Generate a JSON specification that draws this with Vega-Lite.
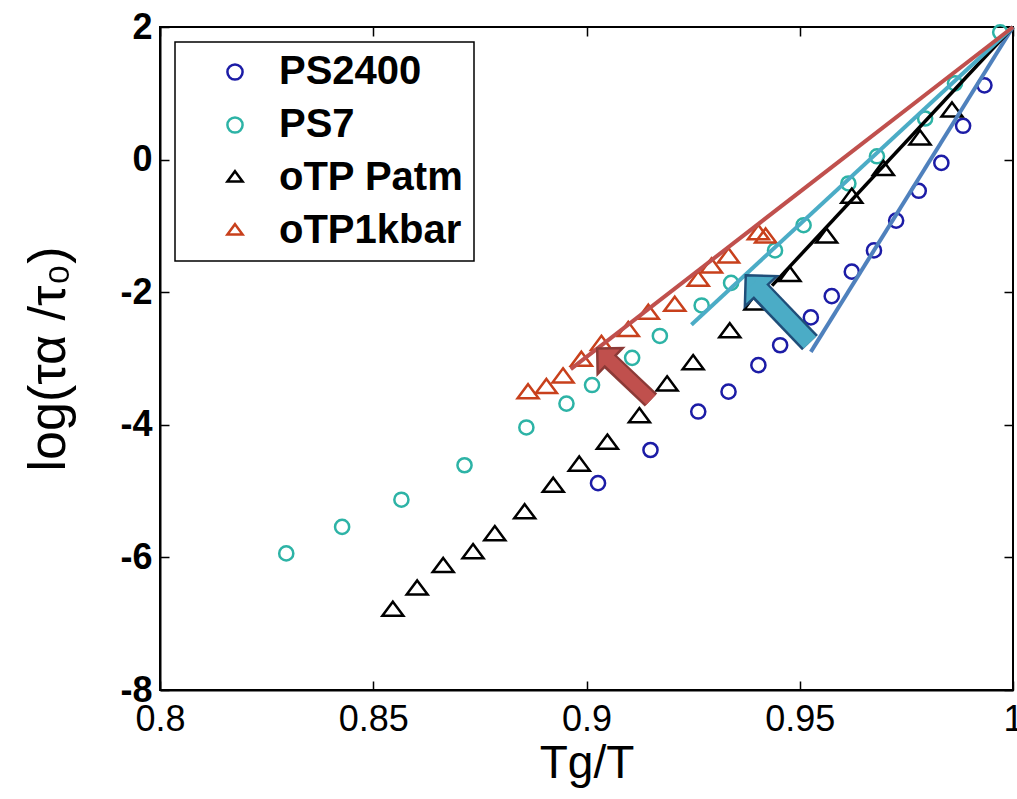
{
  "$schema": "https://vega.github.io/schema/vega-lite/v6.json",
  "width": 853,
  "height": 663,
  "autosize": "none",
  "padding": {"left": 160, "top": 27, "right": 4, "bottom": 109},
  "background": "white",
  "config": {
    "view": {"stroke": "black", "strokeWidth": 2},
    "font": "Liberation Sans",
    "axis": {
      "domainColor": "black",
      "domainWidth": 2,
      "ticks": false,
      "labelColor": "black",
      "titleColor": "black",
      "labelFont": "Liberation Sans",
      "titleFont": "Liberation Sans",
      "labelFlush": false,
      "labelOverlap": false,
      "grid": true,
      "gridColor": "#000000",
      "gridWidth": 1.5,
      "gridOpacity": 1
    },
    "axisX": {"gridDash": [9, 645, 9, 2000]},
    "axisY": {"gridDash": [9, 835, 9, 2000]},
    "legend": {"strokeWidth": 1.5}
  },
  "datasets": {
    "points": [
      {"series": "PS2400", "x": 0.9027, "y": -4.88},
      {"series": "PS2400", "x": 0.9150, "y": -4.38},
      {"series": "PS2400", "x": 0.9262, "y": -3.80},
      {"series": "PS2400", "x": 0.9333, "y": -3.50},
      {"series": "PS2400", "x": 0.9403, "y": -3.10},
      {"series": "PS2400", "x": 0.9454, "y": -2.80},
      {"series": "PS2400", "x": 0.9526, "y": -2.38},
      {"series": "PS2400", "x": 0.9575, "y": -2.06},
      {"series": "PS2400", "x": 0.9622, "y": -1.69},
      {"series": "PS2400", "x": 0.9674, "y": -1.37},
      {"series": "PS2400", "x": 0.9726, "y": -0.92},
      {"series": "PS2400", "x": 0.9779, "y": -0.47},
      {"series": "PS2400", "x": 0.9832, "y": -0.05},
      {"series": "PS2400", "x": 0.9883, "y": 0.51},
      {"series": "PS2400", "x": 0.9933, "y": 1.12},
      {"series": "PS7", "x": 0.8296, "y": -5.94},
      {"series": "PS7", "x": 0.8427, "y": -5.54},
      {"series": "PS7", "x": 0.8566, "y": -5.13},
      {"series": "PS7", "x": 0.8714, "y": -4.61},
      {"series": "PS7", "x": 0.8859, "y": -4.04},
      {"series": "PS7", "x": 0.8953, "y": -3.68},
      {"series": "PS7", "x": 0.9013, "y": -3.40},
      {"series": "PS7", "x": 0.9107, "y": -2.99},
      {"series": "PS7", "x": 0.9172, "y": -2.66},
      {"series": "PS7", "x": 0.9270, "y": -2.20},
      {"series": "PS7", "x": 0.9339, "y": -1.86},
      {"series": "PS7", "x": 0.9442, "y": -1.37},
      {"series": "PS7", "x": 0.9509, "y": -0.99},
      {"series": "PS7", "x": 0.9614, "y": -0.36},
      {"series": "PS7", "x": 0.9681, "y": 0.05},
      {"series": "PS7", "x": 0.9794, "y": 0.62},
      {"series": "PS7", "x": 0.9864, "y": 1.15},
      {"series": "PS7", "x": 0.9970, "y": 1.92},
      {"series": "oTP Patm", "x": 0.8546, "y": -6.81},
      {"series": "oTP Patm", "x": 0.8603, "y": -6.49},
      {"series": "oTP Patm", "x": 0.8664, "y": -6.15},
      {"series": "oTP Patm", "x": 0.8734, "y": -5.94},
      {"series": "oTP Patm", "x": 0.8785, "y": -5.67},
      {"series": "oTP Patm", "x": 0.8855, "y": -5.34},
      {"series": "oTP Patm", "x": 0.8922, "y": -4.94},
      {"series": "oTP Patm", "x": 0.8983, "y": -4.62},
      {"series": "oTP Patm", "x": 0.9049, "y": -4.29},
      {"series": "oTP Patm", "x": 0.9124, "y": -3.89},
      {"series": "oTP Patm", "x": 0.9189, "y": -3.41},
      {"series": "oTP Patm", "x": 0.9250, "y": -3.09},
      {"series": "oTP Patm", "x": 0.9336, "y": -2.61},
      {"series": "oTP Patm", "x": 0.9395, "y": -2.19},
      {"series": "oTP Patm", "x": 0.9477, "y": -1.76},
      {"series": "oTP Patm", "x": 0.9563, "y": -1.18},
      {"series": "oTP Patm", "x": 0.9622, "y": -0.58},
      {"series": "oTP Patm", "x": 0.9696, "y": -0.16},
      {"series": "oTP Patm", "x": 0.9782, "y": 0.30},
      {"series": "oTP Patm", "x": 0.9857, "y": 0.72},
      {"series": "oTP1kbar", "x": 0.8863, "y": -3.53},
      {"series": "oTP1kbar", "x": 0.8906, "y": -3.45},
      {"series": "oTP1kbar", "x": 0.8945, "y": -3.29},
      {"series": "oTP1kbar", "x": 0.8988, "y": -3.04},
      {"series": "oTP1kbar", "x": 0.9035, "y": -2.80},
      {"series": "oTP1kbar", "x": 0.9098, "y": -2.59},
      {"series": "oTP1kbar", "x": 0.9145, "y": -2.33},
      {"series": "oTP1kbar", "x": 0.9207, "y": -2.21},
      {"series": "oTP1kbar", "x": 0.9262, "y": -1.83},
      {"series": "oTP1kbar", "x": 0.9293, "y": -1.63},
      {"series": "oTP1kbar", "x": 0.9333, "y": -1.48},
      {"series": "oTP1kbar", "x": 0.9403, "y": -1.13},
      {"series": "oTP1kbar", "x": 0.9420, "y": -1.18}
    ],
    "fits": [
      {"fit": "PS2400", "x": 0.9526, "y": -2.9},
      {"fit": "PS2400", "x": 1.0, "y": 2.0},
      {"fit": "PS7", "x": 0.9246, "y": -2.49},
      {"fit": "PS7", "x": 1.0, "y": 2.0},
      {"fit": "oTP Patm", "x": 0.9435, "y": -1.9},
      {"fit": "oTP Patm", "x": 1.0, "y": 2.0},
      {"fit": "oTP1kbar", "x": 0.8963, "y": -3.16},
      {"fit": "oTP1kbar", "x": 1.0, "y": 2.0}
    ],
    "arrows": [
      {"arrow": "red", "x": 0.91512, "y": -3.626, "x2": 0.90551, "y2": -3.042, "hx": 0.90403, "hy": -2.944},
      {"arrow": "teal", "x": 0.95240, "y": -2.762, "x2": 0.94084, "y2": -1.986, "hx": 0.93911, "hy": -1.864}
    ]
  },
  "encoding": {
    "x": {"field": "x", "type": "quantitative",
      "scale": {"domain": [0.8, 1], "nice": false, "zero": false},
      "axis": {"values": [0.8, 0.85, 0.9, 0.95, 1], "labelExpr": "toString(datum.value)", "title": "Tg/T",
        "labelFontSize": 36, "titleFontSize": 46, "titleFontWeight": "normal", "labelPadding": 12, "titlePadding": 4}},
    "y": {"field": "y", "type": "quantitative",
      "scale": {"domain": [-8, 2], "nice": false, "zero": false},
      "axis": {"values": [-8, -6, -4, -2, 0, 2], "labelExpr": "toString(datum.value)", "title": "log(τα /τ₀)",
        "labelFontSize": 36, "labelFontWeight": "bold", "titleFontSize": 52, "titleFontWeight": "normal", "labelPadding": 8, "titlePadding": 44}}
  },
  "layer": [
    {
      "data": {"name": "points"},
      "transform": [{"filter": "datum.series == 'PS2400' || datum.series == 'PS7'"}],
      "mark": {"type": "point", "filled": false, "strokeWidth": 2.5, "size": 200, "opacity": 1},
      "encoding": {
        "color": {"field": "series", "type": "nominal",
          "scale": {"domain": ["PS2400", "PS7", "oTP Patm", "oTP1kbar"], "range": ["#1c1ca6", "#2db3a6", "#000000", "#c8401c"]},
          "legend": {"orient": "none", "legendX": 15, "legendY": 15, "title": null, "strokeColor": "black", "fillColor": "white",
            "padding": 10, "labelFontSize": 40, "labelFontWeight": "bold", "labelFont": "Liberation Sans", "labelColor": "black", "labelLimit": 400,
            "symbolSize": 230, "symbolStrokeWidth": 2.5, "symbolOffset": 30, "labelOffset": 24, "rowPadding": 13}},
        "shape": {"field": "series", "type": "nominal",
          "scale": {"domain": ["PS2400", "PS7", "oTP Patm", "oTP1kbar"], "range": ["circle", "circle", "M0,-0.9L1,0.45L-1,0.45Z", "M0,-0.9L1,0.45L-1,0.45Z"]},
          "legend": {"orient": "none", "legendX": 15, "legendY": 15, "title": null}}
      }
    },
    {
      "data": {"name": "points"},
      "transform": [{"filter": "datum.series == 'oTP Patm' || datum.series == 'oTP1kbar'"}],
      "mark": {"type": "point", "filled": false, "strokeWidth": 2.5, "size": 440, "opacity": 1},
      "encoding": {
        "color": {"field": "series", "type": "nominal",
          "scale": {"domain": ["PS2400", "PS7", "oTP Patm", "oTP1kbar"], "range": ["#1c1ca6", "#2db3a6", "#000000", "#c8401c"]},
          "legend": {"orient": "none", "legendX": 15, "legendY": 15, "title": null}},
        "shape": {"field": "series", "type": "nominal",
          "scale": {"domain": ["PS2400", "PS7", "oTP Patm", "oTP1kbar"], "range": ["circle", "circle", "M0,-0.9L1,0.45L-1,0.45Z", "M0,-0.9L1,0.45L-1,0.45Z"]},
          "legend": {"orient": "none", "legendX": 15, "legendY": 15, "title": null}}
      }
    },
    {
      "data": {"name": "fits"},
      "transform": [{"filter": "datum.fit == 'PS2400'"}],
      "mark": {"type": "line", "color": "#4f81bd", "strokeWidth": 4}
    },
    {
      "data": {"name": "fits"},
      "transform": [{"filter": "datum.fit == 'oTP Patm'"}],
      "mark": {"type": "line", "color": "#000000", "strokeWidth": 3.5}
    },
    {
      "data": {"name": "fits"},
      "transform": [{"filter": "datum.fit == 'PS7'"}],
      "mark": {"type": "line", "color": "#4bacc6", "strokeWidth": 4}
    },
    {
      "data": {"name": "fits"},
      "transform": [{"filter": "datum.fit == 'oTP1kbar'"}],
      "mark": {"type": "line", "color": "#c0504d", "strokeWidth": 4}
    },
    {
      "data": {"name": "arrows"},
      "transform": [{"filter": "datum.arrow == 'red'"}],
      "mark": {"type": "rule", "color": "#8c3a37", "strokeWidth": 18, "strokeCap": "butt"},
      "encoding": {"x2": {"field": "x2"}, "y2": {"field": "y2"}}
    },
    {
      "data": {"name": "arrows"},
      "transform": [{"filter": "datum.arrow == 'red'"}],
      "mark": {"type": "point", "shape": "M0,-0.5L1,0.5L-1,0.5Z", "size": 1296, "angle": 314, "filled": true, "fill": "#c0504d", "stroke": "#8c3a37", "strokeWidth": 2.5, "opacity": 1, "fillOpacity": 1, "strokeOpacity": 1},
      "encoding": {
        "x": {"field": "hx", "type": "quantitative"},
        "y": {"field": "hy", "type": "quantitative"}
      }
    },
    {
      "data": {"name": "arrows"},
      "transform": [{"filter": "datum.arrow == 'red'"}],
      "mark": {"type": "rule", "color": "#c0504d", "strokeWidth": 13, "strokeCap": "butt"},
      "encoding": {"x2": {"field": "hx"}, "y2": {"field": "hy"}}
    },
    {
      "data": {"name": "arrows"},
      "transform": [{"filter": "datum.arrow == 'teal'"}],
      "mark": {"type": "rule", "color": "#1f4e79", "strokeWidth": 22, "strokeCap": "butt"},
      "encoding": {"x2": {"field": "x2"}, "y2": {"field": "y2"}}
    },
    {
      "data": {"name": "arrows"},
      "transform": [{"filter": "datum.arrow == 'teal'"}],
      "mark": {"type": "point", "shape": "M0,-0.5L1,0.5L-1,0.5Z", "size": 1936, "angle": 316.6, "filled": true, "fill": "#4bacc6", "stroke": "#1f4e79", "strokeWidth": 2.5, "opacity": 1, "fillOpacity": 1, "strokeOpacity": 1},
      "encoding": {
        "x": {"field": "hx", "type": "quantitative"},
        "y": {"field": "hy", "type": "quantitative"}
      }
    },
    {
      "data": {"name": "arrows"},
      "transform": [{"filter": "datum.arrow == 'teal'"}],
      "mark": {"type": "rule", "color": "#4bacc6", "strokeWidth": 17, "strokeCap": "butt"},
      "encoding": {"x2": {"field": "hx"}, "y2": {"field": "hy"}}
    }
  ]
}
